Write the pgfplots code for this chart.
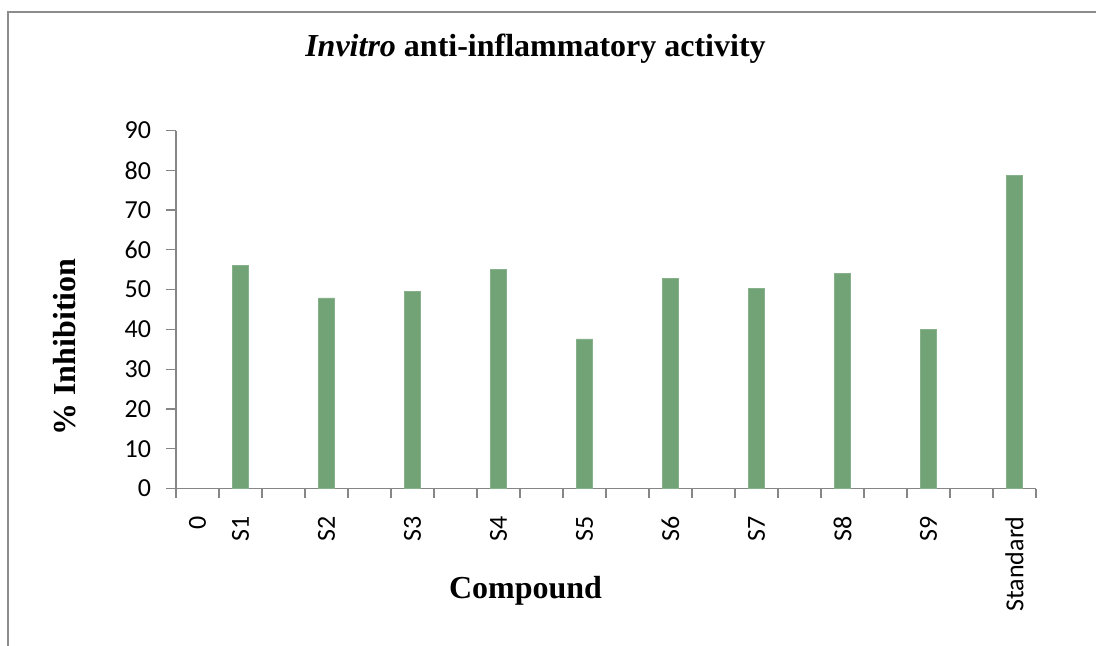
\documentclass[border=0pt]{standalone}
\usepackage{pgfplots}
\pgfplotsset{compat=1.18}
\usepackage{fontspec}
\setmainfont{Liberation Serif}
\newfontfamily\calibri{Carlito}
\definecolor{barcol}{RGB}{114,163,118}
\definecolor{axgray}{RGB}{134,134,134}
\definecolor{framegray}{RGB}{140,140,140}
\begin{document}
\begin{tikzpicture}[x=0.5pt,y=0.5pt]
\useasboundingbox (0,0) rectangle (1096,645);
\draw[framegray, line width=1.25pt] (8,-5) -- (8,633) -- (1100,633);
\begin{axis}[
  at={(88pt,78.25pt)}, anchor=south west,
  scale only axis, width=430pt, height=179pt,
  xmin=-0.5, xmax=19.5, ymin=0, ymax=90,
  axis lines=left,
  axis line style={-, draw=axgray, line width=0.6pt},
  ytick={0,10,...,90},
  xtick={0,1,3,5,7,9,11,13,15,17,19},
  xticklabels={0,S1,S2,S3,S4,S5,S6,S7,S8,S9,Standard},
  minor xtick={-0.5,0.5,...,19.5},
  major x tick style={draw=none},
  tick align=outside,
  tick style={axgray, line width=0.6pt},
  major tick length=5pt, minor tick length=4.5pt,
  ticklabel style={font=\calibri\fontsize{13}{15}\selectfont},
  /pgf/number format/assume math mode=true,
  yticklabel style={xshift=-4pt},
  xticklabel style={yshift=-5.5pt, rotate=90, anchor=east},
  title={\textbf{\textit{Invitro} anti-inflammatory activity}},
  title style={at={(rel axis cs:0.418,1.1746)}, anchor=base, font=\fontsize{16}{19}\selectfont},
  xlabel={\textbf{Compound}},
  xlabel style={at={(rel axis cs:0.4064,-0.3059)}, anchor=base, font=\fontsize{16}{19}\selectfont},
  ylabel={\textbf{\% Inhibition}},
  ylabel style={at={(rel axis cs:-0.1174,0.395)}, anchor=base, font=\fontsize{16}{19}\selectfont},
]
\addplot[ybar, bar width=0.372, fill=barcol, draw=barcol!85!white, line width=0.4pt]
  coordinates {(1,56.0) (3,47.9) (5,49.6) (7,55.0) (9,37.6) (11,52.7) (13,50.2) (15,54.0) (17,40.1) (19,78.6)};
\end{axis}
\end{tikzpicture}
\end{document}
